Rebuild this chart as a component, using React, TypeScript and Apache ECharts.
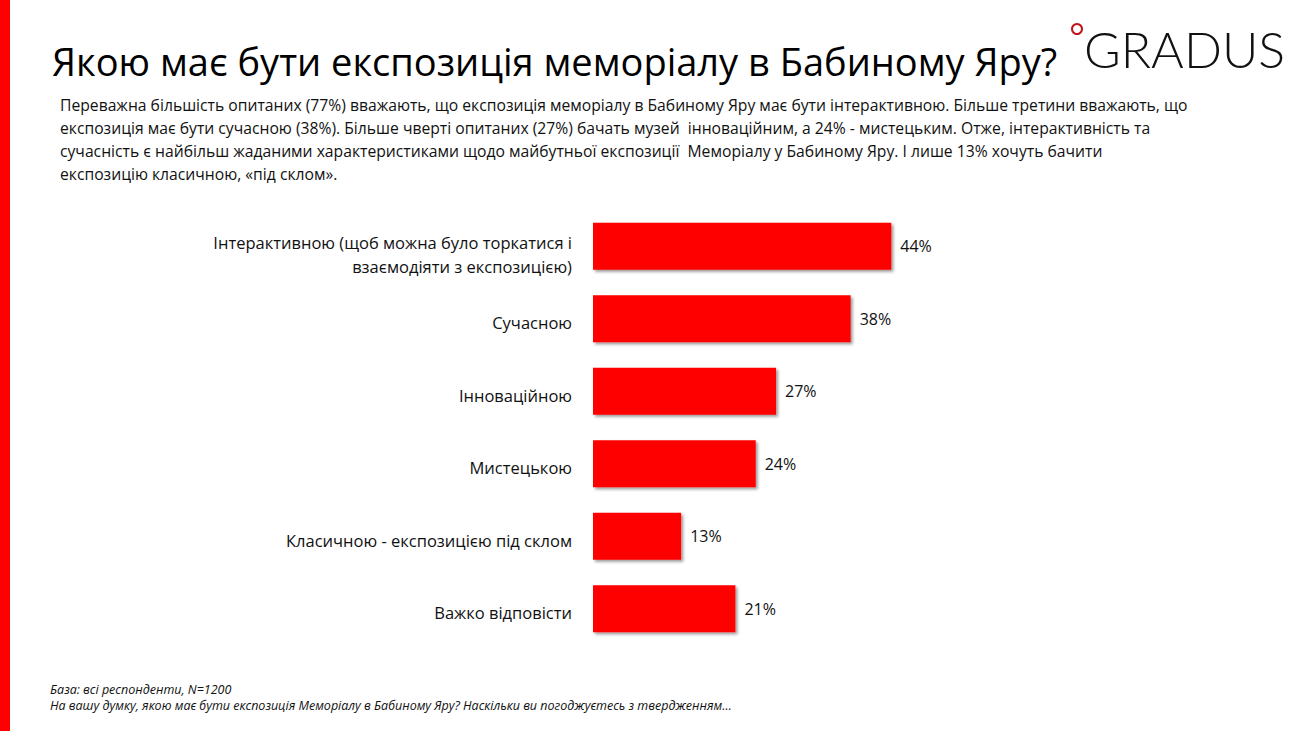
import React, { useEffect, useRef } from "react";
import * as echarts from "echarts";

const categories = [
  "Інтерактивною (щоб можна було торкатися і\nвзаємодіяти з експозицією)",
  "Сучасною",
  "Інноваційною",
  "Мистецькою",
  "Класичною - експозицією під склом",
  "Важко відповісти",
];
const values = [44, 38, 27, 24, 13, 21];

const titleText = "Якою має бути експозиція меморіалу в Бабиному Яру?";
const bodyLines = [
  "Переважна більшість опитаних (77%) вважають, що експозиція меморіалу в Бабиному Яру має бути інтерактивною. Більше третини вважають, що",
  "експозиція має бути сучасною (38%). Більше чверті опитаних (27%) бачать музей  інноваційним, а 24% - мистецьким. Отже, інтерактивність та",
  "сучасність є найбільш жаданими характеристиками щодо майбутньої експозиції  Меморіалу у Бабиному Яру. І лише 13% хочуть бачити",
  "експозицію класичною, «під склом».",
];
const footLines = [
  "База: всі респонденти, N=1200",
  "На вашу думку, якою має бути експозиція Меморіалу в Бабиному Яру? Наскільки ви погоджуєтесь з твердженням…",
];

const FONT = "'Open Sans', sans-serif";

export default function App() {
  const ref = useRef<HTMLDivElement>(null);
  useEffect(() => {
    document.body.style.margin = "0";
    const chart = echarts.init(ref.current!, null, { renderer: "svg" });
    const graphics: any[] = [
      { type: "rect", shape: { x: 0, y: 0, width: 10, height: 731 }, style: { fill: "#FF0000" } },
      {
        type: "text",
        x: 52,
        y: 61,
        style: { text: titleText, font: `38px ${FONT}`, fill: "#000", verticalAlign: "middle" },
      },
      ...bodyLines.map((t, i) => ({
        type: "text",
        x: 60,
        y: 105 + i * 23,
        style: { text: t, font: `15.7px ${FONT}`, fill: "#111", verticalAlign: "middle" },
      })),
      ...footLines.map((t, i) => ({
        type: "text",
        x: 50,
        y: 689 + i * 16,
        style: { text: t, font: `italic 12.5px ${FONT}`, fill: "#111", verticalAlign: "middle" },
      })),
      {
        type: "text",
        x: 1084,
        y: 49,
        style: {
          text: "GRADUS",
          font: `300 50px Lato, ${FONT}`,
          fill: "#111",
          verticalAlign: "middle",
        },
      },
      {
        type: "circle",
        shape: { cx: 1077, cy: 29, r: 5 },
        style: { fill: "none", stroke: "#C0151B", lineWidth: 2 },
      },
    ];
    chart.setOption({
      animation: false,
      backgroundColor: "#fff",
      grid: { left: 593, right: 368, top: 210, bottom: 86, containLabel: false },
      xAxis: { type: "value", min: 0, max: 50, show: false },
      yAxis: {
        type: "category",
        inverse: true,
        data: categories,
        axisLine: { show: false },
        axisTick: { show: false },
        axisLabel: {
          color: "#111",
          fontSize: 16.5,
          fontFamily: FONT,
          lineHeight: 24,
          margin: 21,
          align: "right",
          padding: [8, 0, 0, 0],
          formatter: (v: string) => {
            const parts = v.split("\n");
            if (parts.length > 1) {
              return parts.map((p) => `{f|${p}}`).join("\n");
            }
            return `{n|${v}}`;
          },
          rich: {
            f: { fontSize: 16.5, fontFamily: FONT, color: "#111", lineHeight: 24, padding: [8, 0, 0, 0] },
            n: { fontSize: 16.5, fontFamily: FONT, color: "#111", lineHeight: 24 },
          },
        },
      },
      series: [
        {
          type: "bar",
          data: values,
          barWidth: 47,
          itemStyle: {
            color: "#FF0000",
            shadowBlur: 3,
            shadowColor: "rgba(0,0,0,0.4)",
            shadowOffsetX: 2,
            shadowOffsetY: 2,
          },
          label: {
            show: true,
            position: "right",
            distance: 9,
            formatter: "{c}%",
            color: "#111",
            fontSize: 16,
            fontFamily: FONT,
          },
        },
      ],
      graphic: graphics,
    });
    return () => chart.dispose();
  }, []);
  return <div ref={ref} style={{ position: "absolute", left: 0, top: 0, width: 1300, height: 731 }} />;
}
